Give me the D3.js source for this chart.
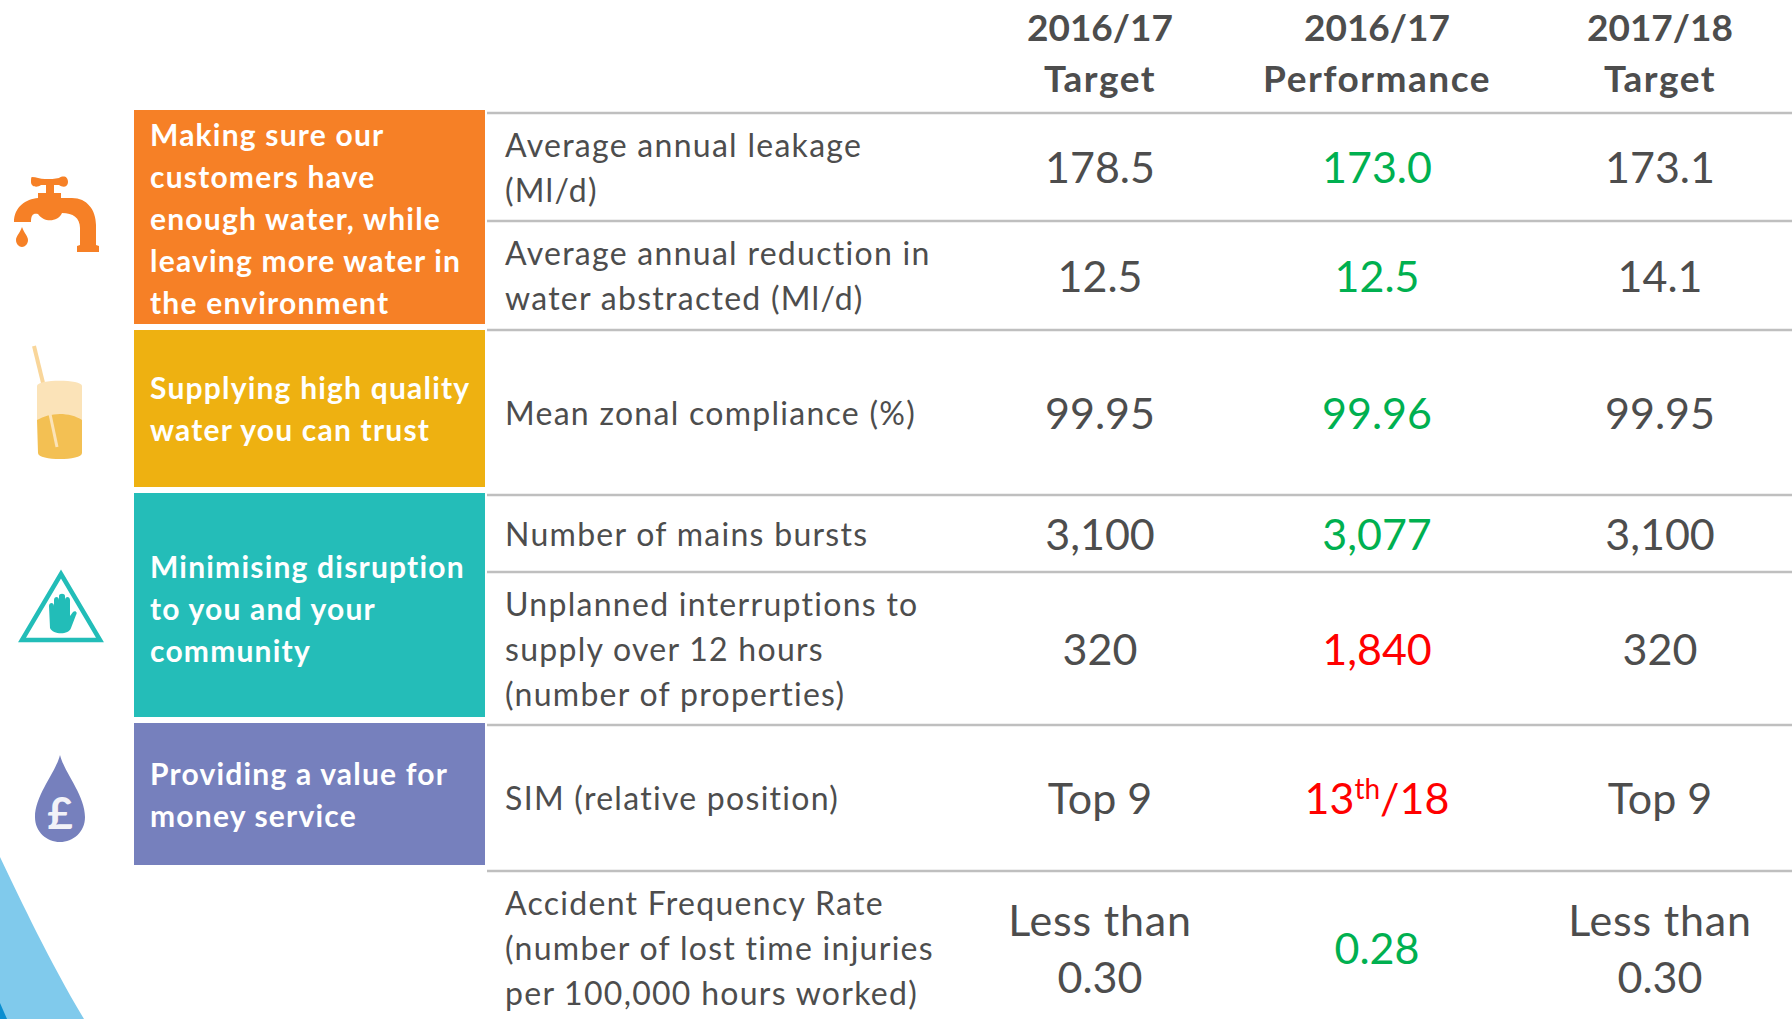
<!DOCTYPE html>
<html>
<head>
<meta charset="utf-8">
<script src="https://cdn.jsdelivr.net/npm/d3@7"></script>
<style>
  html, body { margin: 0; padding: 0; background: #fff; overflow: hidden; }
  svg { display: block; font-family: Lato, "Open Sans", sans-serif; }
</style>
</head>
<body>
<svg width="1792" height="1019"></svg>
<script>

/* Datos */

let columnas = ['target_1617', 'performance_1617', 'target_1718']
let cabeceras = [['2016/17', 'Target'], ['2016/17', 'Performance'], ['2017/18', 'Target']]

let indicadores = [
  ['Average annual leakage', '(Ml/d)'],
  ['Average annual reduction in', 'water abstracted (Ml/d)'],
  ['Mean zonal compliance (%)'],
  ['Number of mains bursts'],
  ['Unplanned interruptions to', 'supply over 12 hours', '(number of properties)'],
  ['SIM (relative position)'],
  ['Accident Frequency Rate', '(number of lost time injuries', 'per 100,000 hours worked)']
]

let target_1617 = ['178.5', '12.5', '99.95', '3,100', '320', 'Top 9', 'Less than|0.30']
let performance_1617 = ['173.0', '12.5', '99.96', '3,077', '1,840', '13th/18', '0.28']
let target_1718 = ['173.1', '14.1', '99.95', '3,100', '320', 'Top 9', 'Less than|0.30']
let cumplido = [true, true, true, true, false, false, true]

let objetivos = [
  ['Making sure our', 'customers have', 'enough water, while', 'leaving more water in', 'the environment'],
  ['Supplying high quality', 'water you can trust'],
  ['Minimising disruption', 'to you and your', 'community'],
  ['Providing a value for', 'money service']
]
let colores_objetivo = ['#f68026', '#eeb111', '#24bdb8', '#7680bd']


/* Layout */

let svg = d3.select('svg')

let gris = '#4d4d4d'
let verde = '#00b050'
let rojo = '#ff0000'

let x_col = d3.scaleOrdinal(columnas, [1100, 1377, 1660])
let y_lineas = [113, 221, 330, 495, 572, 725, 871, 1025]
let y_cajas = [[110, 324], [330, 487], [493, 717], [723, 865]]
let ajuste_cajas = [12.5, 11.5, 15, 11.5]

let centro_fila = i => (y_lineas[i] + y_lineas[i + 1]) / 2
let valores = [target_1617, performance_1617, target_1718]

// Bloques de texto centrados en y, linea por linea
let baselines = (n, centro, paso, ajuste) => d3.range(n).map(i => centro + (i - (n - 1) / 2) * paso + ajuste)


/* Fondo */

let fondo = svg.append('g').attr('class', 'fondo')
fondo.append('path')
  .attr('d', 'M0,857 C22,903 50,962 84,1019 L0,1019 Z')
  .attr('fill', '#80caec')
fondo.append('path')
  .attr('d', 'M0,1003 L7,1019 L0,1019 Z')
  .attr('fill', '#0a8ed0')


/* Lineas de la tabla */

svg.append('g').selectAll('line')
  .data(y_lineas.slice(0, 7))
  .enter().append('line')
  .attr('x1', 487)
  .attr('x2', 1792)
  .attr('y1', d => d)
  .attr('y2', d => d)
  .attr('stroke', '#bfbfbf')
  .attr('stroke-width', 2.6)


/* Cajas de objetivos */

let cajas = svg.append('g').selectAll('g.caja')
  .data(objetivos)
  .enter().append('g')
  .attr('class', 'caja')

cajas.append('rect')
  .attr('x', 134)
  .attr('width', 351)
  .attr('y', (d, i) => y_cajas[i][0])
  .attr('height', (d, i) => y_cajas[i][1] - y_cajas[i][0])
  .attr('fill', (d, i) => colores_objetivo[i])

cajas.each(function(lineas, i) {
  let centro = (y_cajas[i][0] + y_cajas[i][1]) / 2
  let ys = baselines(lineas.length, centro, 42, ajuste_cajas[i])
  d3.select(this).selectAll('text')
    .data(lineas)
    .enter().append('text')
    .attr('x', 150)
    .attr('y', (d, j) => ys[j])
    .attr('fill', '#fff')
    .attr('font-size', 30)
    .attr('font-weight', 700)
    .attr('letter-spacing', 1.2)
    .text(d => d)
})


/* Cabeceras */

let cabs = svg.append('g').selectAll('g.cabecera')
  .data(cabeceras)
  .enter().append('g')
  .attr('class', 'cabecera')

cabs.selectAll('text')
  .data((d, i) => d.map((t, j) => ({t, j, col: columnas[i]})))
  .enter().append('text')
  .attr('x', d => x_col(d.col))
  .attr('y', d => 41 + d.j * 51)
  .attr('text-anchor', 'middle')
  .attr('fill', gris)
  .attr('font-size', 37)
  .attr('font-weight', 700)
  .attr('letter-spacing', d => d.j == 0 ? 0 : 1.5)
  .text(d => d.t)


/* Indicadores */

let filas = svg.append('g').selectAll('g.fila')
  .data(indicadores)
  .enter().append('g')
  .attr('class', 'fila')

filas.each(function(lineas, i) {
  let ys = baselines(lineas.length, centro_fila(i), 45, 12)
  d3.select(this).selectAll('text')
    .data(lineas)
    .enter().append('text')
    .attr('x', 505)
    .attr('y', (d, j) => ys[j])
    .attr('fill', gris)
    .attr('font-size', 32)
    .attr('letter-spacing', 1.28)
    .text(d => d)
})


/* Valores */

let escribir_valor = (sel, texto) => {
  let m = texto.match(/^(\d+)(th)(\/\d+)$/)
  if (!m) {
    sel.text(texto)
    return
  }
  sel.append('tspan').text(m[1])
  sel.append('tspan').attr('dy', -15).attr('font-size', 28).text(m[2])
  sel.append('tspan').attr('dy', 15).text(m[3])
}

let espaciado_valor = linea => {
  if (linea.startsWith('Less')) return 0.8
  return 0
}

columnas.forEach((col, c) => {
  valores[c].forEach((valor, i) => {
    let lineas = valor.split('|')
    let ys = baselines(lineas.length, centro_fila(i), 57, 16)
    lineas.forEach((linea, j) => {
      svg.append('text')
        .attr('x', x_col(col))
        .attr('y', ys[j])
        .attr('text-anchor', 'middle')
        .attr('font-size', 43)
        .attr('letter-spacing', espaciado_valor(linea))
        .attr('fill', col == 'performance_1617' ? (cumplido[i] ? verde : rojo) : gris)
        .call(escribir_valor, linea)
    })
  })
})


/* Iconos */

let defs = svg.append('defs')
defs.append('filter').attr('id', 'suave')
  .append('feGaussianBlur').attr('stdDeviation', 0.6)

let iconos = svg.append('g').attr('filter', 'url(#suave)')

// Canilla
let canilla = iconos.append('g').attr('fill', '#f68026')
canilla.append('path')
  .attr('d', 'M14,222 C14,207 26,199 38,198 L38,193 L61,193 L61,198 L72,198 C87,198 96,210 96,225 L96,245 L99,246 L99,252 L77,252 L77,246 L80,245 L80,228 C80,218 73,213 62,213 C58,222 44,223 38,214 C33,213 31,215 31,222 Z')
canilla.append('path')
  .attr('d', 'M32,177 C36,177 40,179 45,179 C50,179 55,179 59,178 C64,175 68,177 68,182 C68,187 63,188 59,185 L54,185 L54,193 L46,193 L46,185 L41,185 C37,188 31,187 31,182 C31,179 31,177 32,177 Z')
canilla.append('path')
  .attr('d', 'M22,227 C24,233 28,236 28,240 C28,244 25,247 22,247 C19,247 16,244 16,240 C16,236 20,233 22,227 Z')

// Vaso
let vaso = iconos.append('g')
vaso.append('line')
  .attr('x1', 34).attr('y1', 346).attr('x2', 44).attr('y2', 387)
  .attr('stroke', '#f9d69a').attr('stroke-width', 4)
vaso.append('path')
  .attr('d', 'M37,386 C37,379 82,379 82,386 L82,420 L37,420 Z')
  .attr('fill', '#fbe3b8')
vaso.append('path')
  .attr('d', 'M37,420 C50,412 70,412 82,420 L82,453 C82,461 38,461 38,453 Z')
  .attr('fill', '#f3c053')
vaso.append('line')
  .attr('x1', 50).attr('y1', 414).attr('x2', 57).attr('y2', 447)
  .attr('stroke', '#fbe3b8').attr('stroke-width', 3)

// Triangulo con mano
let aviso = iconos.append('g')
aviso.append('path')
  .attr('d', 'M61,574 L100,640 L22,640 Z')
  .attr('fill', '#fff')
  .attr('stroke', '#24bdb8')
  .attr('stroke-width', 4.5)
aviso.append('path')
  .attr('fill', '#24bdb8')
  .attr('d', 'M49,606 C49,602 54,602 54,606 L54,600 C54,596 59,596 59,600 L59,596 C59,593 65,593 65,596 L65,600 C65,596 70,596 70,600 L70,616 L73,612 C75,610 78,612 76,615 L71,628 C69,635 53,635 50,628 Z')

// Gota con libra
iconos.append('path')
  .attr('d', 'M60,755 C64,772 85,795 85,817 C85,832 73,842 60,842 C47,842 35,832 35,817 C35,795 56,772 60,755 Z')
  .attr('fill', '#7680bd')
svg.append('text')
  .attr('x', 60)
  .attr('y', 829)
  .attr('text-anchor', 'middle')
  .attr('fill', '#f2f2f8')
  .attr('font-size', 44)
  .attr('font-weight', 700)
  .text('£')

</script>
</body>
</html>
